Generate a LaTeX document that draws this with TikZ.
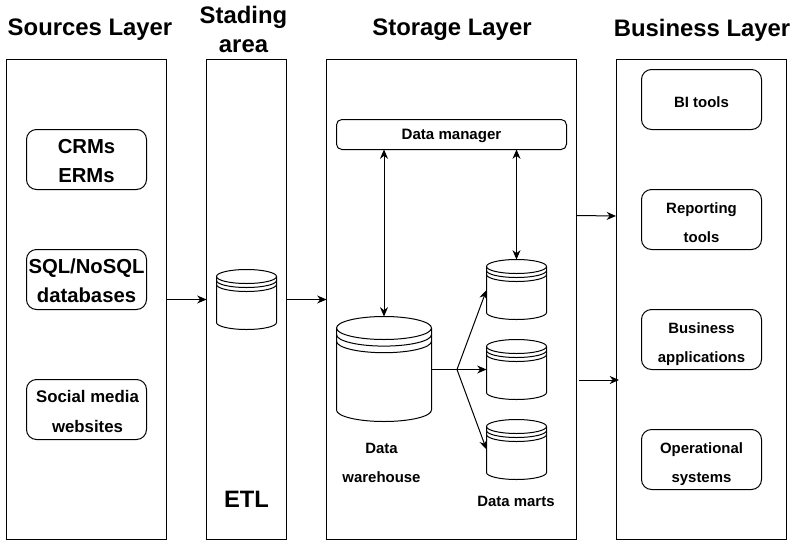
\documentclass[tikz,border=0pt]{standalone}
\usepackage{fontspec}
\setmainfont{Liberation Sans}
\usetikzlibrary{arrows.meta}
\tikzset{
  x=0.75pt,y=-0.75pt,
  every node/.style={font=\bfseries,inner sep=0pt,outer sep=0pt},
  line/.style={draw=black,line width=0.75pt},
  layer/.style={line,rectangle,anchor=north west},
  rbox/.style={line,rectangle,rounded corners=7.5pt,anchor=north west,minimum width=90pt,minimum height=45pt},
  head/.style={font=\fontsize{17.9}{21.8}\selectfont\bfseries,align=center},
  small/.style={font=\fontsize{11.2}{21.8}\selectfont\bfseries,align=center},
  mid/.style={font=\fontsize{12.6}{21.8}\selectfont\bfseries,align=center},
  big/.style={font=\fontsize{15.2}{21.8}\selectfont\bfseries,align=center},
  conn/.style={draw=black,line width=0.75pt,-{Stealth[length=7pt,width=6pt]}},
  conn2/.style={draw=black,line width=0.75pt,{Stealth[length=7pt,width=6pt]}-{Stealth[length=7pt,width=6pt]}},
}
% name, left x, top y, width, height, ry, band gap
\newcommand{\cyl}[7]{%
  \node[rectangle,anchor=north west,minimum width=#4*0.75pt,minimum height=#5*0.75pt] (#1) at (#2,#3) {};
  \draw[line] (#2,#3+#6) arc[start angle=180,end angle=360,x radius=#4/2,y radius=#6]
     -- (#2+#4,#3+#5-#6) arc[start angle=0,end angle=180,x radius=#4/2,y radius=#6] -- cycle;
  \foreach \k in {0,1,2}{
    \draw[line] (#2,#3+#6+\k*#7) arc[start angle=180,end angle=0,x radius=#4/2,y radius=#6];
  }%
}
\begin{document}
\begin{tikzpicture}
\useasboundingbox (0,0) rectangle (790,540);
\fill[white] (0,0) rectangle (790,540);
% layers
\node[layer,minimum width=120pt,minimum height=360pt] (src) at (6.5,59.5) {};
\node[layer,minimum width=60pt,minimum height=360pt] (stg) at (206.5,59.5) {};
\node[layer,minimum width=187.5pt,minimum height=360pt] (sto) at (326.5,59.5) {};
\node[layer,minimum width=127.5pt,minimum height=360pt] (bus) at (616.5,59.5) {};
% headings
\node[head] (h1) at (90,30) {Sources Layer};
\node[head] (h2) at (243.5,29) {Stading\\area};
\node[head] (h3) at (452,30) {Storage Layer};
\node[head] (h4) at (702,30) {Business Layer};
% source boxes
\node[rbox] (crm) at (26.5,129.5) {};
\node[big] (crmt) at (86.5,161) {CRMs\\ERMs};
\node[rbox] (sql) at (26.5,249.5) {};
\node[big] (sqlt) at (86.5,281) {SQL/NoSQL\\databases};
\node[rbox] (soc) at (26.5,379.5) {};
\node[mid] (soct) at (87.5,411.5) {Social media\\websites};
% business boxes
\node[rbox] (bi) at (641.5,69.5) {};
\node[small] (bit) at (701.5,102) {BI tools};
\node[rbox] (rep) at (641.5,189.5) {};
\node[small] (rept) at (701.5,223) {Reporting\\tools};
\node[rbox] (app) at (641.5,309.5) {};
\node[small] (appt) at (701.5,344) {Business\\applications};
\node[rbox] (ops) at (641.5,429.5) {};
\node[small] (opst) at (701.5,464) {Operational\\systems};
% data manager
\node[line,rectangle,rounded corners=4pt,anchor=north west,minimum width=172.5pt,minimum height=22.5pt] (dm) at (336.5,119.5) {};
\node[font=\fontsize{11.3}{13}\selectfont\bfseries] (dmt) at (451.5,136) {Data manager};
% cylinders
\cyl{etl}{216.5}{269.5}{60}{60}{7}{4}
\cyl{dw}{336.5}{316.5}{95}{105}{11.5}{6.6}
\cyl{m1}{486.5}{259.5}{60}{60}{7}{4}
\cyl{m2}{486.5}{339.5}{60}{60}{7}{4}
\cyl{m3}{486.5}{419.5}{60}{60}{7}{4}
% labels
\node[font=\fontsize{17.8}{20}\selectfont\bfseries] (etlt) at (246.5,499) {ETL};
\node[small] (dwt) at (381.5,463) {Data\\warehouse};
\node[small] (dmk) at (516,501.5) {Data marts};
% connectors
\coordinate (j) at (457,370);
\coordinate (a) at (577,215.5);
\coordinate (b) at (616,216);
\coordinate (c) at (579,380);
\coordinate (d) at (619,380);
\coordinate (m1w) at (486.5,290);
\coordinate (m2w) at (486.5,369.5);
\coordinate (m3w) at (486.5,449.5);
\coordinate (dwe) at (431.5,369.5);
\draw[conn] (src.east |- 0,299.5) -- (stg.west |- 0,299.5);
\draw[conn] (stg.east |- 0,299.5) -- (sto.west |- 0,299.5);
\draw[conn] (a) -- (b);
\draw[conn] (c) -- (d);
\draw[conn2] (dw.north |- dm.south) -- (dw.north);
\draw[conn2] (m1.north |- dm.south) -- (m1.north);
\draw[line] (dwe) -- (j |- dwe);
\draw[conn] (j |- dwe) -- (m1w);
\draw[conn] (j |- dwe) -- (m2w);
\draw[conn] (j |- dwe) -- (m3w);
\end{tikzpicture}
\end{document}
